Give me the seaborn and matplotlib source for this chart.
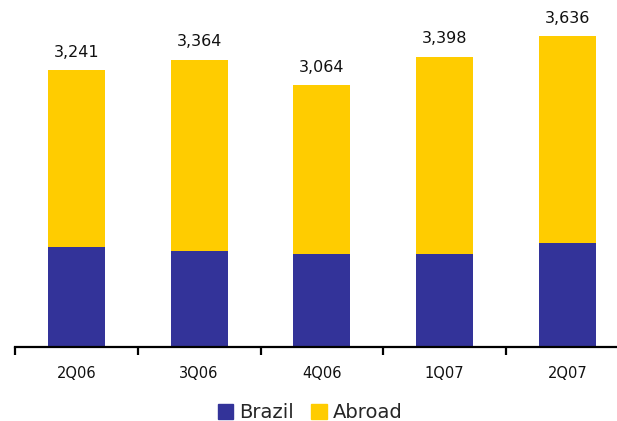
import matplotlib
matplotlib.use("Agg")
import matplotlib.pyplot as plt
import seaborn as sns
import pandas as pd
from matplotlib.patches import Patch

quarters = ["2Q06", "3Q06", "4Q06", "1Q07", "2Q07"]
brazil = [1170, 1124, 1089, 1089, 1218]
abroad = [2071, 2240, 1975, 2309, 2418]
total_labels = ["3,241", "3,364", "3,064", "3,398", "3,636"]

c_brazil = "#333399"
c_abroad = "#FFCC00"

sns.set_theme(style="white")
plt.rcParams["font.family"] = ["DejaVu Sans"]

df = pd.DataFrame({"quarter": quarters, "brazil": brazil, "abroad": abroad})
df["total"] = df["brazil"] + df["abroad"]

fig = plt.figure(figsize=(6.17, 4.21), dpi=100)
ax = fig.add_axes([15/617, 74/421, 613.75/617, 341.6/421])

sns.barplot(data=df, x="quarter", y="total", color=c_abroad, width=0.465,
            saturation=1, linewidth=0, ax=ax)
sns.barplot(data=df, x="quarter", y="brazil", color=c_brazil, width=0.465,
            saturation=1, linewidth=0, ax=ax)

ax.set_ylim(0, 4000)
ax.set_xlim(-0.5, len(quarters) - 0.5)
ax.set_xlabel("")
ax.set_ylabel("")
ax.set_yticks([])
for s in ["left", "right", "top"]:
    ax.spines[s].set_visible(False)
ax.spines["bottom"].set_linewidth(1.6)
ax.spines["bottom"].set_color("black")

ax.set_xticks(range(len(quarters)))
ax.set_xticklabels(quarters, fontsize=10.5, color="#111111")
ax.tick_params(axis="x", which="major", length=0, pad=13.5)
ax.set_xticks([i - 0.5 for i in range(len(quarters) + 1)], minor=True)
ax.tick_params(axis="x", which="minor", length=6, width=1.6, color="black",
               direction="out", bottom=True)

for i, lab in enumerate(total_labels):
    ax.annotate(lab, (i, df["total"][i]), xytext=(0, 7.5), textcoords="offset points",
                ha="center", va="bottom", fontsize=11.5, color="#111111")

handles = [Patch(color=c_brazil, label="Brazil"), Patch(color=c_abroad, label="Abroad")]
fig.legend(handles=handles, loc="center", bbox_to_anchor=(310/617, 1 - 413/421),
           ncol=2, frameon=False, fontsize=14, handlelength=0.8, handleheight=0.8,
           handletextpad=0.3, columnspacing=0.9)

fig.savefig("out.png", dpi=100)
